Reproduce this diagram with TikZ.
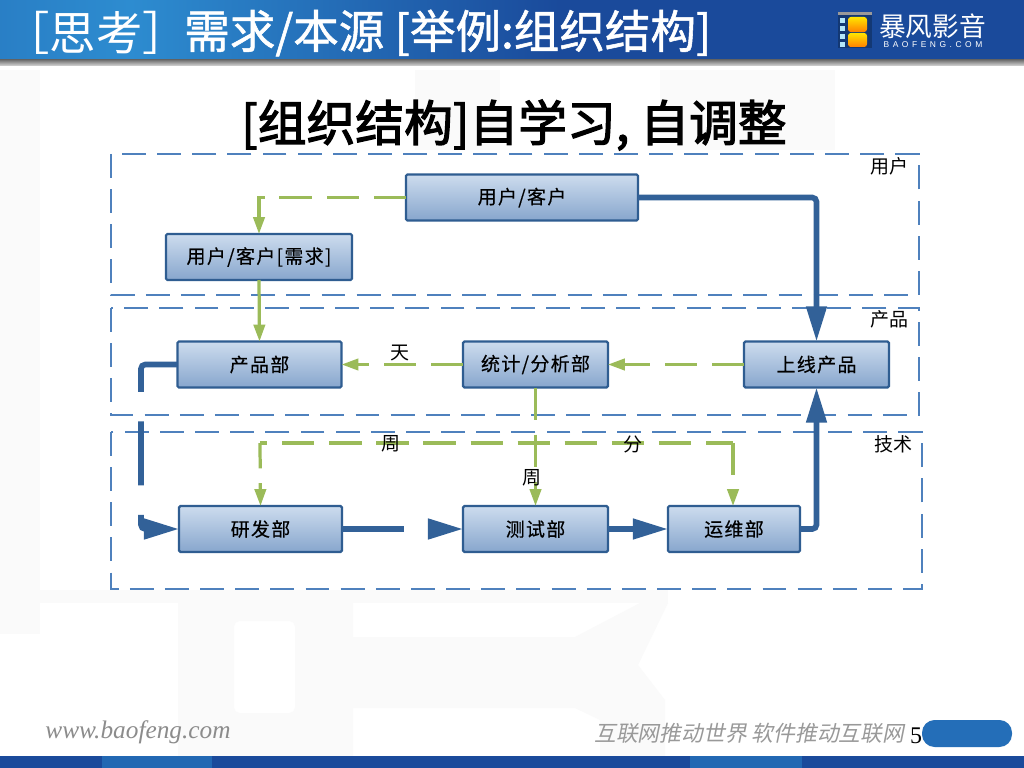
\documentclass[tikz,border=0pt]{standalone}
\usepackage{fontspec}
\setmainfont{Noto Sans CJK SC}
\newfontfamily\cjkspaced[LetterSpace=7,FakeBold=0.4]{Noto Sans CJK SC}
\newfontfamily\cjkheavy[FakeBold=1.2]{Noto Sans CJK SC}
\newfontfamily\cjkblack[FakeBold=2.5]{Noto Sans CJK SC}
\newfontfamily\cjkslant[FakeSlant=0.2]{Noto Sans CJK SC}
\newfontfamily\serifweb{Liberation Serif}
\newfontfamily\brandsans[LetterSpace=42]{Liberation Sans}
\usetikzlibrary{arrows.meta,positioning}
\definecolor{deptborder}{RGB}{47,93,145}
\definecolor{depttop}{RGB}{205,220,238}
\definecolor{deptbot}{RGB}{135,166,205}
\definecolor{flowblue}{RGB}{50,97,152}
\definecolor{feedgreen}{RGB}{155,187,89}
\definecolor{framecolor}{RGB}{79,129,189}
\definecolor{barblue}{RGB}{26,74,155}
\definecolor{barlight}{RGB}{45,140,208}
\tikzset{
  dept/.style    = {draw=deptborder,line width=1.6pt,rounded corners=1pt,
                    top color=depttop,bottom color=deptbot,outer sep=0pt,inner sep=0pt,
                    minimum height=1.15cm,font=\cjkspaced\fontsize{13.5}{15}\selectfont},
  flow/.style    = {line width=4pt,color=flowblue,
                    -{Triangle[length=25pt,width=14pt]}},
  feed/.style    = {line width=2.3pt,color=feedgreen,
                    -{Triangle[length=12pt,width=8pt]}},
  feeddash/.style= {feed,dash pattern=on 23pt off 10.5pt},
  zone/.style    = {draw=framecolor,line width=1.2pt,dash pattern=on 17pt off 8pt},
  zonetag/.style = {font=\fontsize{13.5}{15}\selectfont,inner sep=0pt},
  ghost/.style   = {fill=black!2,draw=none},
}
\begin{document}
\begin{tikzpicture}[x=0.025cm,y=-0.025cm]
  \useasboundingbox (0,0) rectangle (1024,768);
  \fill[white] (0,0) rectangle (1024,768);
  % watermark
  \fill[ghost] (0,70) rectangle (40,634);
  \fill[ghost] (40,590) rectangle (668,603);
  \fill[ghost,even odd rule] (178,603) rectangle (353,756)
        [rounded corners=4pt] (234,621) rectangle (295,713);
  \fill[ghost] (353,637) -- (575,637) -- (640,603) -- (668,603) -- (638,665)
        -- (665,700) -- (665,756) -- (600,756) -- (600,720) -- (575,708) -- (353,708) -- cycle;
  \fill[ghost] (415,70) rectangle (500,150);
  \fill[ghost] (660,70) rectangle (835,150);
  % header and footer
  \shade[left color=barlight!80!barblue,right color=barlight] (0,0) rectangle (130,60);
  \shade[left color=barlight,right color=barblue] (130,0) rectangle (560,60);
  \fill[barblue] (560,0) rectangle (1024,60);
  \shade[top color=black!55,bottom color=black!15] (0,60) rectangle (1024,66);
  \fill[barblue] (0,756) rectangle (1024,768);
  \fill[barlight!45!barblue] (102,756) rectangle (212,768);
  \fill[barlight!45!barblue] (690,756) rectangle (802,768);
  \fill[color=barlight!55!barblue,rounded corners=9pt] (922,720) rectangle (1012,747);
  \node[text=white,font=\fontsize{33}{36}\selectfont,inner sep=0pt,anchor=west] (headline) at (3,33) {［思考］};
  \node[text=white,font=\cjkheavy\fontsize{32.4}{35}\selectfont,inner sep=0pt,anchor=west] (headrest) at (184,33) {需求/本源 [举例:组织结构]};
  \node[font=\cjkblack\fontsize{34.7}{38}\selectfont,inner sep=0pt] (subject) at (514,125) {[组织结构]自学习, 自调整};
  % logo
  \fill[barblue!75!black] (838,13) rectangle (872,48);
  \fill[black!40] (838,12) rectangle (872,15);
  \shade[top color=yellow!80!orange,bottom color=orange,rounded corners=2pt] (848,17) rectangle (867,32);
  \shade[top color=yellow!80!orange,bottom color=orange,rounded corners=2pt] (848,33) rectangle (867,47);
  \foreach \gy in {18,26,34,42} \fill[white!70!cyan] (840,\gy) rectangle (845,\gy+5);
  \node[text=white,font=\fontsize{19}{21}\selectfont,inner sep=0pt] (brand) at (932.5,26) {暴风影音};
  \node[text=white,font=\brandsans\fontsize{6}{7}\selectfont,inner sep=0pt] (brandsub) at (933,45) {BAOFENG.COM};
  \node[text=black!45,font=\serifweb\itshape\fontsize{18}{20}\selectfont,inner sep=0pt] (site) at (138,732) {www.baofeng.com};
  \node[text=black!40,font=\cjkslant\fontsize{15.5}{17}\selectfont,inner sep=0pt,anchor=west] (slogan) at (594,733) {互联网推动世界 软件推动互联网};
  \node[font=\serifweb\fontsize{17}{19}\selectfont,inner sep=0pt] (pageno) at (916,736) {5};
  % zones
  \draw[zone] (111,154) rectangle (919,295);
  \draw[zone] (111,308) rectangle (919,415);
  \draw[zone] (111,432) rectangle (922,589);
  \node[zonetag] (taguser) at (889.5,166) {用户};
  \node[zonetag] (tagprod) at (889.5,319) {产品};
  \node[zonetag] (tagtech) at (893.5,444) {技术};
  % departments
  \node[dept,minimum width=5.8cm] (client) at (522,197.5) {用户/客户};
  \node[dept,minimum width=4.65cm] (demand) at (259,257) {用户/客户[需求]};
  \node[dept,minimum width=4.1cm] (product) at (259.5,364.5) {产品部};
  \node[dept,minimum width=3.62cm] (stats) at (535.5,364.5) {统计/分析部};
  \node[dept,minimum width=3.62cm] (online) at (816.5,364.5) {上线产品};
  \node[dept,minimum width=4.07cm] (rnd) at (260.5,529) {研发部};
  \node[dept,minimum width=3.62cm] (testing) at (535.5,529) {测试部};
  \node[dept,minimum width=3.3cm] (ops) at (734,529) {运维部};
  % main flow
  \draw[flow,rounded corners=3pt] (client.east) -| (online.north);
  \draw[flow,rounded corners=3pt] (ops.east) -| (online.south);
  \draw[flow] (testing.east) -- (ops.west);
  \draw[flow,dash pattern=on 44pt off 20pt on 40pt] (rnd.east) -- (testing.west);
  \coordinate (turnb) at (141,529);
  \draw[flow,rounded corners=3pt,dash pattern=on 44pt off 21pt on 45.5pt off 21pt on 80pt]
        (product.west) -| (turnb) -- (rnd.west);
  % feedback
  \draw[feeddash] (client.west) -| (demand.north);
  \draw[feed] (demand.south) -- (product.north);
  \draw[feeddash] (stats.west) -- (product.east);
  \draw[feeddash] (online.west) -- (stats.east);
  \draw[feeddash] (stats.south) -- (testing.north);
  \coordinate (forkl) at (260,443);
  \coordinate (forkr) at (733,443);
  \draw[feeddash,-,dash phase=17.8pt] (forkl) -- (forkr);
  \draw[feeddash] (forkr) -- (forkr |- ops.north);
  \draw[feeddash,dash phase=5pt] (forkl) -- (rnd.north);
  \node[zonetag,fill=white,inner xsep=1pt] (labday) at (400,353) {天};
  \node[zonetag] (labweeka) at (391,444) {周};
  \node[zonetag] (labweekb) at (532,478) {周};
  \node[zonetag] (labmin) at (633,444) {分};
\end{tikzpicture}
\end{document}
